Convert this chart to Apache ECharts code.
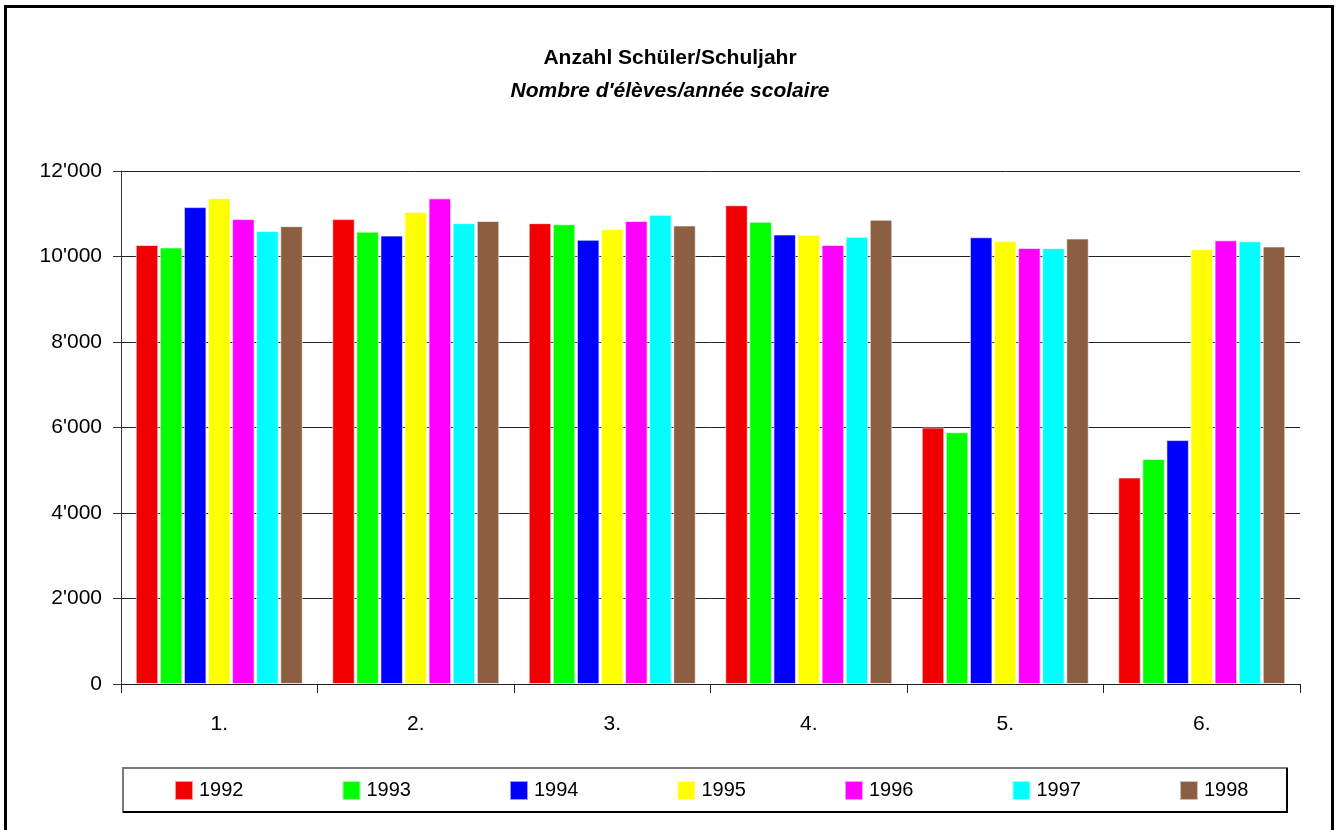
<!DOCTYPE html>
<html>
<head>
<meta charset="utf-8">
<script src="https://cdn.jsdelivr.net/npm/echarts@6/dist/echarts.min.js"></script>
<style>html,body{margin:0;padding:0;background:#fff;}#c{width:1340px;height:830px;}</style>
</head>
<body>
<div id="c"></div>
<script>
const categories = ['1.', '2.', '3.', '4.', '5.', '6.'];
const years = ['1992', '1993', '1994', '1995', '1996', '1997', '1998'];
const colors = ['#f00000', '#00ff00', '#0000ff', '#ffff00', '#ff00ff', '#00ffff', '#8c5e42'];
const v1992 = [10270, 10875, 10780, 11200, 6000, 4830];
const v1993 = [10210, 10580, 10755, 10810, 5890, 5265];
const v1994 = [11155, 10490, 10390, 10515, 10450, 5705];
const v1995 = [11365, 11040, 10640, 10510, 10365, 10170];
const v1996 = [10875, 11360, 10830, 10270, 10200, 10380];
const v1997 = [10595, 10780, 10975, 10460, 10195, 10355];
const v1998 = [10710, 10830, 10725, 10860, 10420, 10235];
const yTicks = [0, 2000, 4000, 6000, 8000, 10000, 12000];
const seriesValues = [v1992, v1993, v1994, v1995, v1996, v1997, v1998];

const FONT = '"Liberation Sans", Arial, sans-serif';

function fmt(v) {
  if (v === 0) return '0';
  const s = String(v);
  return s.slice(0, s.length - 3) + "'" + s.slice(s.length - 3);
}

const chart = echarts.init(document.getElementById('c'), null, {renderer: 'canvas'});
const option = {
  backgroundColor: '#fff',
  animation: false,
  textStyle: {fontFamily: FONT},
  title: [
    {text: 'Anzahl Schüler/Schuljahr', left: 'center', top: 43,
     textStyle: {fontFamily: FONT, fontWeight: 'bold', fontSize: 21, color: '#000'}},
    {text: "Nombre d'élèves/année scolaire", left: 'center', top: 76,
     textStyle: {fontFamily: FONT, fontWeight: 'bold', fontStyle: 'italic', fontSize: 21, color: '#000'}}
  ],
  legend: {
    left: 174, top: 780, padding: 0,
    itemWidth: 18, itemHeight: 19, itemGap: 98,
    icon: 'rect',
    data: years,
    textStyle: {fontFamily: FONT, fontSize: 20, color: '#000', padding: [0, 0, 0, 1]}
  },
  grid: {left: 121, right: 40, top: 171, bottom: 146, containLabel: false},
  xAxis: {
    type: 'category', data: categories,
    axisLine: {show: true, lineStyle: {color: '#222', width: 1}},
    axisTick: {show: true, length: 9, lineStyle: {color: '#222'}},
    axisLabel: {margin: 30, fontFamily: FONT, fontSize: 21, color: '#000'}
  },
  yAxis: {
    type: 'value', min: 0, max: 12000, interval: 2000,
    axisLine: {show: true, lineStyle: {color: '#333', width: 1}},
    axisTick: {show: true, length: 8, lineStyle: {color: '#333'}},
    splitLine: {show: true, lineStyle: {color: '#222', width: 1}},
    axisLabel: {margin: 19, fontFamily: FONT, fontSize: 21, color: '#000',
      formatter: function (v) { return yTicks.indexOf(v) >= 0 ? fmt(v) : ''; }}
  },
  series: years.map(function (y, i) {
    return {
      name: y, type: 'bar', data: seriesValues[i],
      barGap: '7%', barCategoryGap: '15%',
      itemStyle: {color: colors[i], borderColor: 'rgba(255,255,255,0.6)', borderWidth: 1},
      emphasis: {disabled: true}
    };
  }),
  graphic: [
    {type: 'rect', z: -10, silent: true,
     shape: {x: 123, y: 768, width: 1164, height: 44},
     style: {fill: '#fff', stroke: '#7a7a7a', lineWidth: 2}},
    {type: 'polyline', z: -9, silent: true,
     shape: {points: [[123, 812], [1287, 812], [1287, 768]]},
     style: {fill: null, stroke: '#000', lineWidth: 2}},
    {type: 'rect', z: 100, silent: true,
     shape: {x: 5.5, y: 6.5, width: 1327, height: 840},
     style: {fill: null, stroke: '#000', lineWidth: 3}}
  ]
};
chart.setOption(option);
</script>
</body>
</html>
